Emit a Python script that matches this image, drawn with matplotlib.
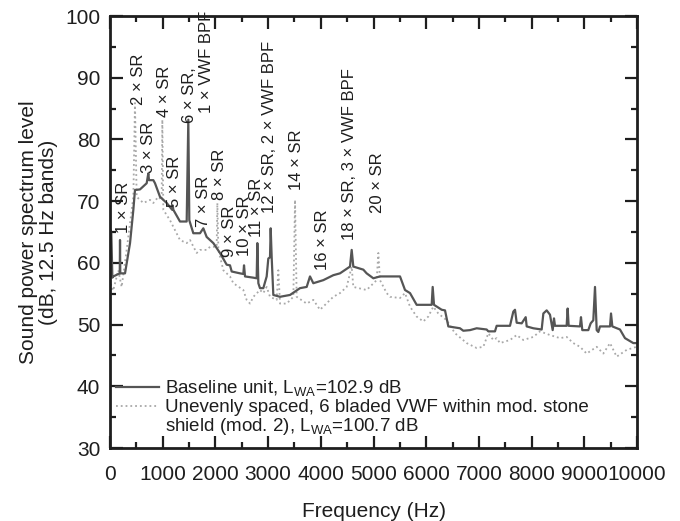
import matplotlib.pyplot as plt
from matplotlib.lines import Line2D
from matplotlib.ticker import MultipleLocator

plt.rcParams['font.family'] = ['Liberation Sans', 'DejaVu Sans']

# baseline unit (solid)
base_f = [0, 10, 25, 45, 63, 185, 190, 195, 285, 380, 443, 474, 569, 696, 727, 740, 822, 854,
          949, 1076, 1180, 1190, 1202, 1328, 1455, 1486, 1505, 1581, 1708, 1771, 1834, 1961,
          2087, 2214, 2277, 2309, 2467, 2530, 2543, 2562, 2720, 2783, 2796, 2815, 2846, 2909,
          2973, 3004, 3036, 3049, 3068, 3099, 3226, 3416, 3605, 3732, 3795, 3858, 4048, 4237,
          4364, 4554, 4586, 4617, 4807, 4870, 4997, 5123, 5503, 5598, 5693, 5819, 6104, 6123,
          6148, 6294, 6357, 6420, 6641, 6704, 6831, 6958, 7147, 7179, 7305, 7337, 7590, 7653,
          7685, 7717, 7812, 7888, 7907, 8033, 8191, 8223, 8286, 8349, 8400, 8425, 8444, 8665,
          8684, 8703, 8918, 8937, 8962, 9076, 9121, 9171, 9203, 9235, 9266, 9298, 9488, 9507,
          9532, 9677, 9772, 9930, 9994]
base_db = [60.0, 65.3, 64.8, 57.6, 57.8, 58.3, 63.7, 58.3, 58.3, 63.2, 68.6, 71.8, 71.9, 72.9,
           74.5, 73.4, 73.4, 72.9, 70.7, 69.7, 68.6, 69.3, 68.6, 66.7, 66.7, 83.2, 66.9, 64.8,
           64.8, 65.6, 64.2, 63.2, 61.6, 59.7, 59.6, 58.6, 58.3, 58.2, 59.6, 57.8, 57.6, 57.5,
           63.2, 56.7, 55.9, 55.9, 57.8, 60.7, 60.9, 65.6, 60.9, 54.8, 54.5, 54.8, 55.9, 56.1,
           57.8, 56.7, 57.2, 58.0, 58.3, 59.4, 62.1, 59.4, 58.9, 58.3, 57.5, 57.8, 57.8, 55.6,
           55.1, 53.2, 53.2, 56.1, 53.2, 52.4, 52.3, 49.7, 49.4, 49.0, 49.1, 49.4, 49.2, 48.9,
           48.9, 49.8, 49.8, 52.1, 52.4, 50.3, 50.2, 51.2, 49.7, 49.4, 49.2, 51.8, 52.3, 51.6,
           49.1, 51.0, 49.8, 49.8, 52.6, 49.8, 49.7, 51.2, 49.1, 49.1, 50.2, 50.7, 56.1, 49.1,
           48.8, 49.7, 49.7, 51.8, 49.7, 49.2, 47.8, 47.0, 47.0]

# unevenly spaced 6 bladed VWF, mod. 2 (dotted)
mod_f = [0, 20, 60, 158, 221, 316, 443, 474, 506, 633, 759, 822, 917, 980, 993, 1012, 1139,
         1328, 1455, 1518, 1645, 1708, 1834, 1898, 2024, 2037, 2056, 2151, 2277, 2341, 2530,
         2593, 2657, 2720, 2846, 2909, 2973, 3036, 3163, 3194, 3226, 3353, 3479, 3511, 3542,
         3732, 3858, 3985, 4237, 4364, 4491, 4586, 4617, 4870, 5060, 5092, 5123, 5250, 5313,
         5503, 5598, 5693, 5819, 5945, 6040, 6135, 6230, 6388, 6546, 6768, 6958, 7084, 7179,
         7273, 7337, 7400, 7590, 7717, 7843, 8033, 8159, 8349, 8539, 8665, 8791, 8918, 9045,
         9235, 9361, 9488, 9614, 9804, 9994]
mod_db = [54.0, 56.5, 55.5, 58.8, 56.1, 62.1, 70.7, 85.9, 70.7, 69.7, 70.2, 69.7, 70.7, 70.2,
          83.2, 68.6, 66.9, 63.7, 63.2, 63.7, 61.6, 62.1, 62.1, 62.6, 62.6, 69.7, 62.1, 58.8,
          57.8, 56.7, 55.6, 54.0, 53.4, 54.5, 55.6, 55.1, 56.1, 54.5, 54.0, 58.8, 53.4, 53.4,
          54.5, 70.2, 54.5, 53.4, 54.0, 52.4, 54.5, 55.1, 56.1, 59.4, 56.1, 55.6, 57.2, 61.6,
          57.2, 55.1, 54.5, 54.3, 55.1, 52.9, 51.3, 50.5, 51.3, 52.9, 51.8, 50.7, 48.6, 47.0,
          46.2, 46.4, 48.6, 47.5, 47.8, 47.0, 47.5, 48.3, 47.5, 48.0, 48.9, 48.3, 47.8, 48.0,
          47.0, 46.4, 45.3, 46.4, 45.3, 47.0, 44.8, 45.9, 46.4]

peak_labels = ['1 × SR', '2 × SR', '3 × SR', '4 × SR', '5 × SR', '6 × SR,', '1 × VWF BPF',
               '7 × SR', '8 × SR', '9 × SR', '10 × SR', '11 × SR', '12 × SR, 2 × VWF BPF',
               '14 × SR', '16 × SR', '18 × SR, 3 × VWF BPF', '20 × SR']
# label anchor (centre x in Hz, bottom in dB)
label_pos = [(256, 64.8), (550, 85.6), (740, 74.6), (1025, 83.6), (1233, 69.1), (1510, 82.6),
             (1840, 84.3), (1774, 65.8), (2080, 70.2), (2277, 61.0), (2543, 61.1), (2780, 64.2),
             (3036, 68.1), (3539, 71.8), (4032, 58.8), (4545, 63.7), (5076, 68.1)]

ink = '#1e1e1e'

fig = plt.figure(figsize=(6.8, 5.21), dpi=100)
ax = fig.add_axes([110/680, 73/521, 527/680, 432/521])

ax.plot(mod_f, mod_db, linestyle=':', color='#a8a8a8', linewidth=1.3)
ax.plot(base_f, base_db, linestyle='-', color='#555555', linewidth=1.6)

for s, (x, y) in zip(peak_labels, label_pos):
    ax.text(x, y, s, rotation=90, ha='center', va='bottom', fontsize=12, color=ink)

ax.set_xlim(0, 10000)
ax.set_ylim(30, 100)
ax.xaxis.set_major_locator(MultipleLocator(1000))
ax.xaxis.set_minor_locator(MultipleLocator(500))
ax.yaxis.set_major_locator(MultipleLocator(10))
ax.yaxis.set_minor_locator(MultipleLocator(5))
ax.tick_params(which='both', direction='in', top=True, right=True, width=1.6, colors=ink)
ax.tick_params(which='major', length=9, labelsize=15, pad=12)
ax.tick_params(axis='y', which='major', pad=7)
ax.tick_params(which='minor', length=4.5)
for sp in ax.spines.values():
    sp.set_linewidth(2)
    sp.set_color(ink)

ax.set_xlabel('Frequency (Hz)', fontsize=15, labelpad=13, color=ink)
ax.set_ylabel('Sound power spectrum level\n(dB, 12.5 Hz bands)', fontsize=15, labelpad=5,
              color=ink, linespacing=1.05)

handles = [Line2D([], [], color='#555555', linewidth=1.6),
           Line2D([], [], color='#a8a8a8', linewidth=1.3, linestyle=':'),
           Line2D([], [], linestyle='none')]
texts = [r'Baseline unit, L$_\mathregular{WA}$=102.9 dB',
         'Unevenly spaced, 6 bladed VWF within mod. stone',
         r'shield (mod. 2), L$_\mathregular{WA}$=100.7 dB']
ax.legend(handles, texts, loc='lower left', bbox_to_anchor=(0.012, 0.025), frameon=False,
          fontsize=13.5, handlelength=2.3, handletextpad=0.3, labelspacing=0.0, borderpad=0,
          borderaxespad=0, labelcolor=ink)

fig.savefig('out.png', dpi=100)
